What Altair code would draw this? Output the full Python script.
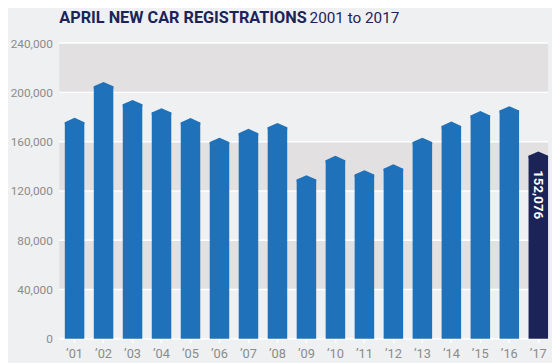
import altair as alt
import pandas as pd

# ---- data ----
years = ["’01", "’02", "’03", "’04", "’05", "’06", "’07", "’08", "’09",
         "’10", "’11", "’12", "’13", "’14", "’15", "’16", "’17"]
values = [179400, 208500, 193900, 187200, 179200, 163200, 170400, 175200, 132800,
          148500, 136800, 141600, 163200, 176300, 184800, 188800, 152076]
highlight = [False] * 16 + [True]
y_ticks = [0, 40000, 80000, 120000, 160000, 200000, 240000]
band_lo = [40000, 120000, 200000]
band_hi = [80000, 160000, 240000]
title_bold = "APRIL NEW CAR REGISTRATIONS"
title_rest = "2001 to 2017"

W, H = 496, 300
FONT = "Roboto"
BLUE = "#1f72b9"
NAVY = "#1c2457"
GREY = "#8b8b8b"

df = pd.DataFrame({"year": years, "v": values, "hl": highlight})
bands = pd.DataFrame({"lo": band_lo, "hi": band_hi})
grid = pd.DataFrame({"t": y_ticks})
titles = pd.DataFrame({"bold": [title_bold], "rest": [title_rest]})

yscale = alt.Scale(domain=[0, 240000], nice=False)
yaxis = alt.Axis(values=y_ticks, labelExpr="format(datum.value, ',')",
                 domain=False, ticks=False, grid=False, labelPadding=7,
                 labelFont=FONT, labelFontSize=12, labelColor=GREY, title=None)
xscale = alt.Scale(domain=years, paddingInner=0.327, paddingOuter=0.096, align=1)
xaxis = alt.Axis(domain=False, ticks=True, tickColor="white", tickSize=4,
                 tickWidth=1.5, labelPadding=5, labelFont=FONT,
                 labelFontSize=13, labelColor=GREY, labelAngle=0, title=None)
cscale = alt.Scale(domain=[False, True], range=[BLUE, NAVY])

band_layer = alt.Chart(bands).mark_rect(color="#e2e0e1").encode(
    x=alt.value(0), x2=alt.value(W),
    y=alt.Y("lo:Q", scale=yscale, axis=yaxis, title=None), y2="hi:Q",
)

grid_layer = alt.Chart(grid).mark_rule(color="white", strokeWidth=1.5).encode(
    x=alt.value(0), x2=alt.value(W),
    y=alt.Y("t:Q", scale=yscale, axis=yaxis, title=None),
)

bars = alt.Chart(df).transform_calculate(base="datum.v - 3600").mark_bar().encode(
    x=alt.X("year:N", sort=None, scale=xscale, axis=xaxis, title=None),
    y=alt.Y("base:Q", scale=yscale, axis=yaxis, title=None),
    color=alt.Color("hl:N", scale=cscale, legend=None),
)

tips = alt.Chart(df).mark_point(
    shape="M-1,0.45L0,0L1,0.45L1,0.7L-1,0.7Z", filled=True, size=392, opacity=1,
    strokeWidth=0,
).encode(
    x=alt.X("year:N", sort=None, scale=xscale, axis=xaxis, title=None),
    y=alt.Y("v:Q", scale=yscale, axis=yaxis, title=None),
    color=alt.Color("hl:N", scale=cscale, legend=None),
)

label = alt.Chart(df).transform_filter("datum.hl").mark_text(
    angle=90, align="left", baseline="middle", dx=19, color="white",
    font=FONT, fontWeight="bold", fontSize=13.5,
).encode(
    x=alt.X("year:N", sort=None, scale=xscale, axis=xaxis, title=None),
    y=alt.Y("v:Q", scale=yscale, axis=yaxis, title=None),
    text=alt.Text("v:Q", format=","),
)

t1 = alt.Chart(titles).mark_text(
    align="left", baseline="alphabetic", font=FONT, fontWeight="bold",
    fontSize=16.5, color=NAVY,
).encode(x=alt.value(0), y=alt.value(-20), text="bold:N")

t2 = alt.Chart(titles).mark_text(
    align="left", baseline="alphabetic", font=FONT, fontWeight="normal",
    fontSize=15.5, color=NAVY,
).encode(x=alt.value(254), y=alt.value(-20), text="rest:N")

chart = alt.layer(band_layer, grid_layer, bars, tips, label, t1, t2).properties(
    width=W, height=H,
    autosize=alt.AutoSizeParams(type="none"),
    padding={"left": 52, "top": 33, "right": 4, "bottom": 22},
).configure(background="#eff0f2").configure_view(stroke=None)

chart.save("out.html", embed_options={"renderer": "svg", "actions": False})
